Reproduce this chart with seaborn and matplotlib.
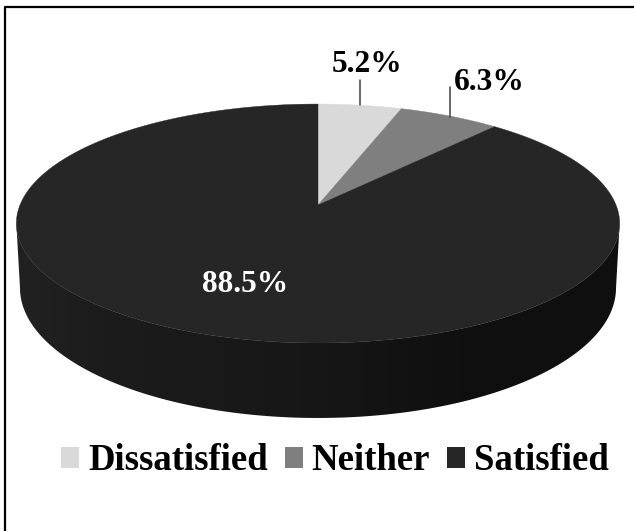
import numpy as np
import matplotlib
matplotlib.use("Agg")
import matplotlib.pyplot as plt
from matplotlib.patches import Patch, Polygon
from matplotlib.lines import Line2D
import seaborn as sns

categories = ["Dissatisfied", "Neither", "Satisfied"]
values = [5.2, 6.3, 88.5]
colors = ["#d9d9d9", "#7f7f7f", "#262626"]
labels = ["5.2%", "6.3%", "88.5%"]
side_stops = [20, 100, 300, 450, 620]
side_grays = [0x21, 0x1c, 0x17, 0x10, 0x0f]

sns.set_theme(style="white")
plt.rcParams["font.family"] = ["Liberation Serif", "DejaVu Serif"]

fig = plt.figure(figsize=(6.34, 5.31), dpi=100, facecolor="white")
ax = fig.add_axes([0, 0, 1, 1])

# pie gives the slice angles; they are then projected in perspective
wedges, _ = ax.pie(values, startangle=90, counterclock=False, colors=colors)
angles = [(w.theta1, w.theta2) for w in wedges]
for w in wedges:
    w.set_visible(False)
ax.set_aspect("auto")
ax.set_xlim(0, 634)
ax.set_ylim(531, 0)
ax.axis("off")

K = 0.155
CX = 318


def project(deg, a, b, y0):
    t = np.radians(deg)
    u, v = np.cos(t), np.sin(t)
    d = 1 + K * v
    return CX + b * u / d, y0 - a * v / d


TOP = dict(a=116.6, b=298.0, y0=205.0)
BOT = dict(a=126.9, b=294.4, y0=267.8)

# side wall, between the widest points of both ellipses
outline = np.vstack([
    np.column_stack(project(np.linspace(188.9, 351.1, 300), **TOP)),
    np.column_stack(project(np.linspace(351.1, 188.9, 300), **BOT)),
])
xs = np.arange(0, 634)
grad = np.interp(xs, side_stops, side_grays)[None, :] / 255.0
poly = Polygon(outline, closed=True, transform=ax.transData, fc="none", ec="none")
ax.add_patch(poly)
im = ax.imshow(grad, extent=(0, 634, 531, 0), cmap="gray", vmin=0, vmax=1,
               aspect="auto", zorder=1)
im.set_clip_path(poly)

# top face
for (t1, t2), c in zip(angles, colors):
    tt = np.linspace(t1, t2, max(int(abs(t2 - t1) * 2), 8))
    x, y = project(tt, **TOP)
    ax.fill(np.r_[CX, x], np.r_[TOP["y0"], y], color=c, lw=0.3, zorder=2)

ax.set_xlim(0, 634)
ax.set_ylim(531, 0)

# leader lines
ax.plot([360, 360], [80, 105], color="#404040", lw=1.1, zorder=3)
ax.plot([450, 450], [87, 117], color="#404040", lw=1.1, zorder=3)

fs = 22.6
ax.text(367, 65, labels[0], ha="center", va="center", fontsize=fs, fontweight="bold", color="black")
ax.text(489, 82, labels[1], ha="center", va="center", fontsize=fs, fontweight="bold", color="black")
ax.text(245, 285, labels[2], ha="center", va="center", fontsize=fs, fontweight="bold", color="white", zorder=4)

handles = [Patch(facecolor=c, edgecolor="none") for c in colors]
leg = ax.legend(handles, categories, ncols=3, frameon=False, loc="center",
                bbox_to_anchor=(335, 461), bbox_transform=ax.transData,
                prop=dict(family="Liberation Serif", weight="bold", size=26.5),
                handlelength=0.49, handleheight=0.49, handletextpad=0.24, columnspacing=0.46,
                borderpad=0, borderaxespad=0, labelcolor="black")

# frame of the picture: top and left edges
fig.add_artist(Line2D([5 / 634, 5 / 634, 634 / 634], [0, 1 - 6.5 / 531, 1 - 6.5 / 531],
                      transform=fig.transFigure, color="black", lw=1.6))

fig.savefig("out.png", dpi=100)
